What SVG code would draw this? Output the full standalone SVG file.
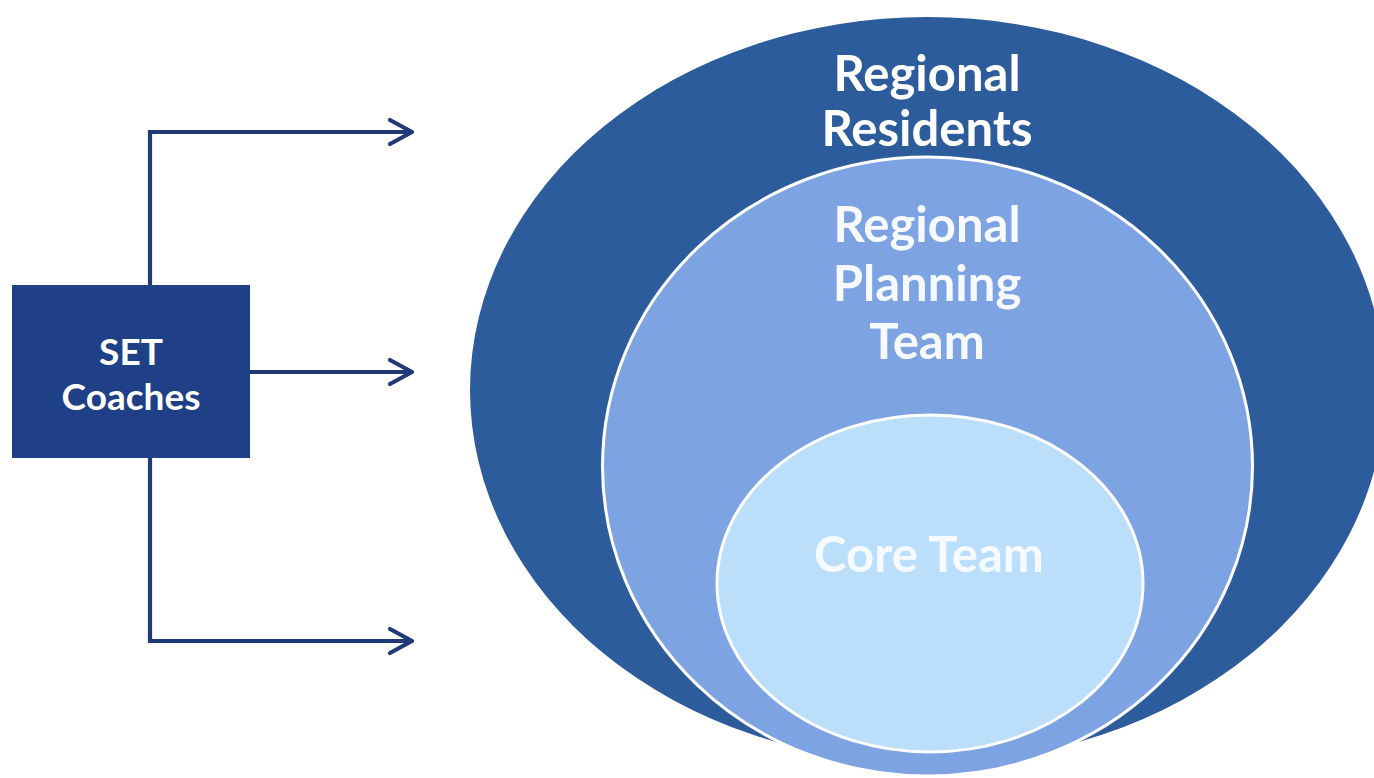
<svg xmlns="http://www.w3.org/2000/svg" width="1374" height="778" viewBox="0 0 1374 778">
<style>
.lbl{font-family:Lato,"Open Sans","Liberation Sans",sans-serif;font-weight:bold;text-anchor:middle;fill:#ffffff}
.big{font-size:49px}
.conn{fill:none;stroke:#1f3a74;stroke-width:4.2;stroke-linejoin:miter}
</style>
<defs>
<marker id="chev" viewBox="0 0 28 30" refX="26" refY="15" markerWidth="28" markerHeight="30" markerUnits="userSpaceOnUse" orient="auto">
<path d="M3,3 L25,15 L3,27" fill="none" stroke="#1f3a74" stroke-width="4.2" stroke-linecap="round" stroke-linejoin="round"/>
</marker>
</defs>
<rect width="1374" height="778" fill="#ffffff"/>
<g id="regional-residents">
<ellipse cx="927.5" cy="390" rx="457.5" ry="373" fill="#2d5c9d"/>
<text class="lbl big" x="927" y="91">Regional</text>
<text class="lbl big" x="927" y="146">Residents</text>
</g>
<g id="regional-planning-team">
<ellipse cx="927.5" cy="466.5" rx="325" ry="309.5" fill="#7ea3e2" stroke="#ffffff" stroke-width="3"/>
<text class="lbl big" x="927" y="242" fill-opacity="0.93">Regional</text>
<text class="lbl big" x="927" y="301" fill-opacity="0.93">Planning</text>
<text class="lbl big" x="927" y="359" fill-opacity="0.93">Team</text>
</g>
<g id="core-team">
<ellipse cx="930" cy="583.5" rx="213" ry="168.5" fill="#bbdefa" stroke="#ffffff" stroke-width="3"/>
<text class="lbl big" x="929" y="572" fill-opacity="0.85">Core Team</text>
</g>
<g id="set-coaches">
<rect x="12" y="285" width="238" height="173" fill="#1f4086"/>
<text class="lbl" x="131" y="365" font-size="37">SET</text>
<text class="lbl" x="131" y="410" font-size="37">Coaches</text>
</g>
<g id="connectors">
<path class="conn" d="M150,285 L150,132 L413,132" marker-end="url(#chev)"/>
<path class="conn" d="M250,372 L413,372" marker-end="url(#chev)"/>
<path class="conn" d="M150,458 L150,641 L413,641" marker-end="url(#chev)"/>
</g>
</svg>
